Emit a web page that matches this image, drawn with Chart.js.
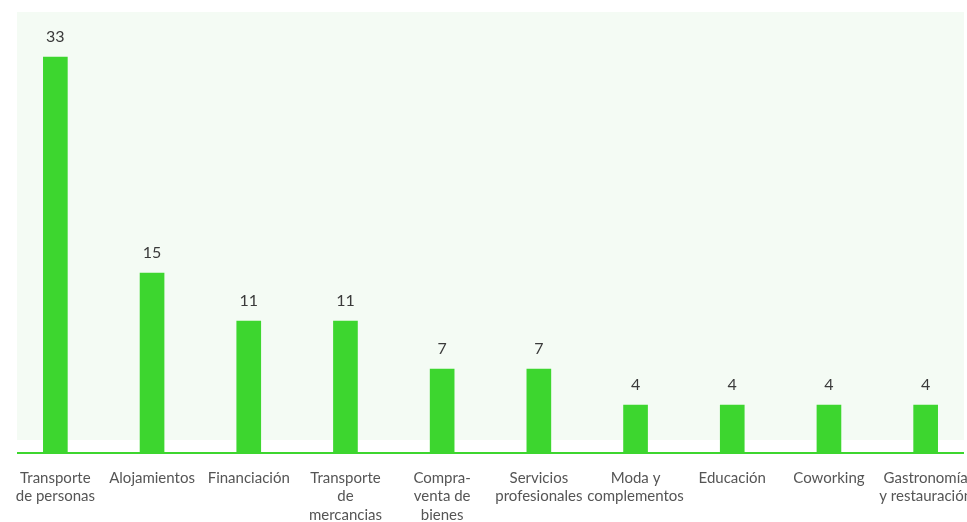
<!DOCTYPE html>
<html>
<head>
<meta charset="utf-8">
<script src="https://cdn.jsdelivr.net/npm/chart.js@4/dist/chart.umd.min.js"></script>
<style>
  html, body { margin: 0; padding: 0; background: #fff; overflow: hidden; }
  #wrap { position: absolute; left: 0; top: 0; width: 981px; height: 522px; }
</style>
</head>
<body>
<div id="wrap"><canvas id="chart"></canvas></div>
<script>
// sectors and number of companies
const categories = [
  ['Transporte', 'de personas'],
  'Alojamientos',
  'Financiación',
  ['Transporte', 'de', 'mercancias'],
  ['Compra-', 'venta de', 'bienes'],
  ['Servicios', 'profesionales'],
  ['Moda y', 'complementos'],
  'Educación',
  'Coworking',
  ['Gastronomía', 'y restauración'],
];
const counts = [33, 15, 11, 11, 7, 7, 4, 4, 4, 4];

const GREEN = '#3dd62f';

// pale panel behind the bars + baseline + value labels
const panelPlugin = {
  id: 'panel',
  beforeDatasetsDraw(chart) {
    const { ctx, chartArea: a } = chart;
    const l = a.left + 10, r = a.right - 10;
    ctx.save();
    ctx.fillStyle = '#f4fbf4';
    ctx.fillRect(l, 12, r - l, a.bottom - 13 - 12);
    ctx.restore();
  },
  afterDatasetsDraw(chart) {
    const { ctx, chartArea: a } = chart;
    ctx.save();
    ctx.strokeStyle = GREEN;
    ctx.lineWidth = 2;
    ctx.beginPath();
    ctx.moveTo(a.left + 10, a.bottom);
    ctx.lineTo(a.right - 10, a.bottom);
    ctx.stroke();
    const meta = chart.getDatasetMeta(0);
    ctx.fillStyle = '#3a3a3a';
    ctx.font = '16px Lato';
    ctx.textAlign = 'center';
    ctx.textBaseline = 'middle';
    meta.data.forEach((bar, i) => {
      ctx.fillText(String(counts[i]), bar.x, bar.y - 20);
    });
    ctx.restore();
  },
};

new Chart(document.getElementById('chart'), {
  type: 'bar',
  data: {
    labels: categories,
    datasets: [{ data: counts, backgroundColor: GREEN, barThickness: 24 }],
  },
  options: {
    responsive: true, maintainAspectRatio: false, animation: false,
    layout: { padding: { left: 7, right: 7, top: 21, bottom: 0 } },
    plugins: { legend: { display: false }, tooltip: { enabled: false } },
    scales: {
      x: {
        grid: { display: false }, border: { display: false },
        afterFit(scale) { scale.height = 69; },
        ticks: { color: '#555', padding: 8, maxRotation: 0, autoSkip: false,
                 font: { family: 'Lato', size: 15, lineHeight: 1.22 } },
      },
      y: { display: false, min: 0, max: 36 },
    },
  },
  plugins: [panelPlugin],
});
</script>
</body>
</html>
